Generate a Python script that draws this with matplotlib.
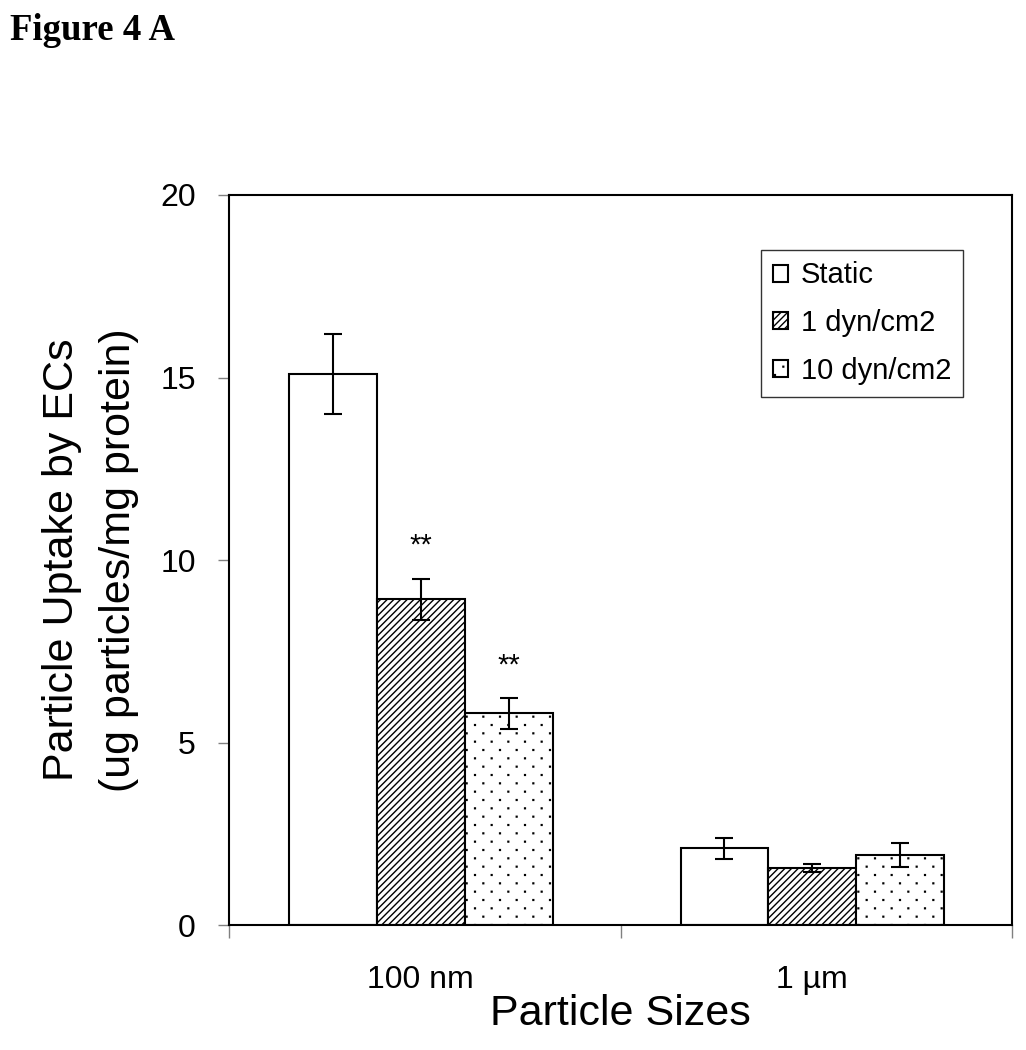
import matplotlib
matplotlib.use("Agg")
import matplotlib.pyplot as plt
import matplotlib.hatch as mhatch
from matplotlib.path import Path
import numpy as np

categories = ["100 nm", "1 \u00b5m"]
series = ["Static", "1 dyn/cm2", "10 dyn/cm2"]
values = {
    "Static": [15.1, 2.1],
    "1 dyn/cm2": [8.93, 1.56],
    "10 dyn/cm2": [5.8, 1.93],
}
errors = {
    "Static": [1.1, 0.28],
    "1 dyn/cm2": [0.56, 0.11],
    "10 dyn/cm2": [0.42, 0.33],
}
significance = {"1 dyn/cm2": ["**", ""], "10 dyn/cm2": ["**", ""]}
hatches = {"Static": "", "1 dyn/cm2": "/////", "10 dyn/cm2": "."}
yticks = [0, 5, 10, 15, 20]


# sparse staggered dot hatch (replaces the default '.' pattern)
class SparseDots(mhatch.HatchPatternBase):
    ncols = 6
    nrows = 12
    half = 0.004

    def __init__(self, hatch, density):
        self.on = hatch.count('.') > 0
        pts = []
        if self.on:
            for i in range(self.nrows + 1):
                y = i / self.nrows
                if i % 2 == 0:
                    xs = np.arange(self.ncols + 1) / self.ncols
                else:
                    xs = (np.arange(self.ncols) + 0.5) / self.ncols
                for x in xs:
                    pts.append((x, y))
        self.pts = pts
        self.num_vertices = len(pts) * 5

    def set_vertices_and_codes(self, vertices, codes):
        h = self.half
        for k, (x, y) in enumerate(self.pts):
            vertices[k * 5:(k + 1) * 5] = [(x - h, y - h), (x + h, y - h),
                                           (x + h, y + h), (x - h, y + h),
                                           (x - h, y - h)]
            codes[k * 5:(k + 1) * 5] = [Path.MOVETO, Path.LINETO, Path.LINETO,
                                        Path.LINETO, Path.CLOSEPOLY]


mhatch._hatch_types = [t for t in mhatch._hatch_types
                       if t is not mhatch.SmallFilledCircles] + [SparseDots]

plt.rcParams['font.family'] = ['Liberation Sans', 'DejaVu Sans']
plt.rcParams['hatch.linewidth'] = 1.0

fig = plt.figure(figsize=(10.26, 10.5), dpi=100)
ax = fig.add_axes([0.2232, 0.1190, 0.7632, 0.6953])

width = 0.2245
centers = np.arange(len(categories)) + 0.49
for i, s in enumerate(series):
    x = centers + (i - 1) * width
    ax.bar(x, values[s], width, color="white", edgecolor="black", linewidth=1.5,
           hatch=hatches[s], label=s, zorder=2)
    ax.errorbar(x, values[s], yerr=errors[s], fmt="none", ecolor="black",
                elinewidth=1.5, capsize=6.5, capthick=1.5, zorder=3)
    if s in significance:
        for xi, v, e, t in zip(x, values[s], errors[s], significance[s]):
            if t:
                ax.text(xi, v + e + 0.9, t, ha="center", va="center", fontsize=21)

ax.set_xlim(0, 2)
ax.set_ylim(0, 20)
ax.set_yticks(yticks)
ax.set_yticklabels([str(t) for t in yticks], fontsize=23)
ax.set_xticks([0, 1, 2])
ax.set_xticklabels([])
ax.set_xticks(centers, minor=True)
ax.set_xticklabels(categories, minor=True, fontsize=23)
ax.tick_params(axis="x", which="minor", length=0, pad=29)
ax.tick_params(axis="x", which="major", direction="out", length=9, color="gray", width=1)
ax.tick_params(axis="y", direction="out", length=8, color="gray", width=1, pad=16)
for sp in ax.spines.values():
    sp.set_linewidth(1.5)
    sp.set_color("black")

ax.set_xlabel("Particle Sizes", fontsize=31, labelpad=-1)
ax.set_ylabel("Particle Uptake by ECs\n(ug particles/mg protein)", fontsize=31,
              labelpad=15, linespacing=1.55)

leg = ax.legend(loc="upper right", bbox_to_anchor=(0.937, 0.925), borderaxespad=0,
                fontsize=21, frameon=True, fancybox=False, edgecolor="black",
                handlelength=0.52, handleheight=0.52, handletextpad=0.42,
                labelspacing=0.68, borderpad=0.4)
leg.get_frame().set_linewidth(1.0)

fig.text(0.01, 0.988, "Figure 4 A", fontsize=26.5, fontweight="bold",
         family=["Liberation Serif", "DejaVu Serif"], ha="left", va="top")

fig.savefig("out.png", dpi=100)
